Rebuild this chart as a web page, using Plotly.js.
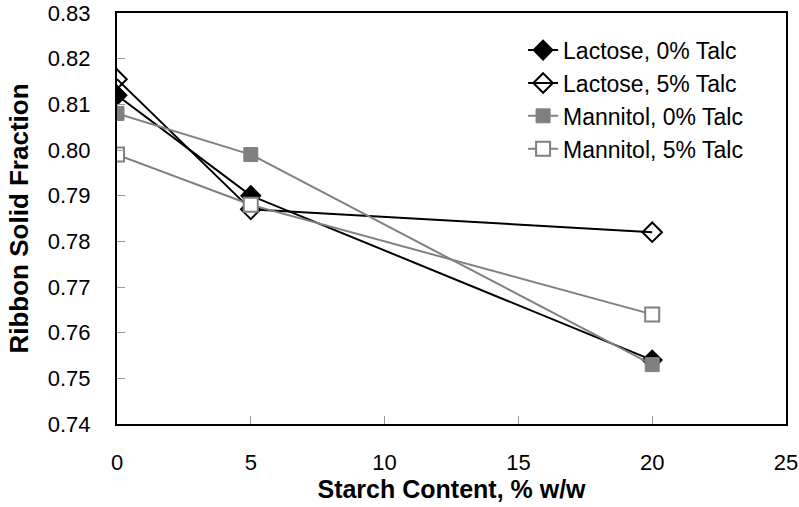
<!DOCTYPE html>
<html>
<head>
<meta charset="utf-8">
<script src="https://cdn.plot.ly/plotly-3.0.1.min.js"></script>
<style>
  html, body { margin: 0; padding: 0; background: #fff; }
  #chart { width: 799px; height: 507px; }
</style>
</head>
<body>
<div id="chart"></div>
<script>
// Starch content (% w/w)
const starch = [0, 5, 20];

// Ribbon solid fraction per formulation
const lactose0 = [0.812, 0.790, 0.754];
const lactose5 = [0.8155, 0.787, 0.782];
const mannitol0 = [0.808, 0.799, 0.753];
const mannitol5 = [0.799, 0.788, 0.764];

const seriesNames = ['Lactose, 0% Talc', 'Lactose, 5% Talc', 'Mannitol, 0% Talc', 'Mannitol, 5% Talc'];

const xTicks = [0, 5, 10, 15, 20, 25];
const yTicks = [0.74, 0.75, 0.76, 0.77, 0.78, 0.79, 0.80, 0.81, 0.82, 0.83];

const fontFam = 'Liberation Sans, Arial, sans-serif';

const data = [
  {
    x: starch, y: lactose0, name: seriesNames[0],
    type: 'scatter', mode: 'lines+markers',
    line: { color: '#000000', width: 2 },
    marker: { symbol: 'diamond', size: 15, color: '#000000', line: { color: '#000000', width: 1.5 } },
  },
  {
    x: starch, y: lactose5, name: seriesNames[1],
    type: 'scatter', mode: 'lines+markers',
    line: { color: '#000000', width: 2 },
    marker: { symbol: 'diamond-open', size: 15, color: '#000000', line: { color: '#000000', width: 2 } },
  },
  {
    x: starch, y: mannitol0, name: seriesNames[2],
    type: 'scatter', mode: 'lines+markers',
    line: { color: '#808080', width: 2 },
    marker: { symbol: 'square', size: 14, color: '#808080', line: { color: '#808080', width: 1 } },
  },
  {
    x: starch, y: mannitol5, name: seriesNames[3],
    type: 'scatter', mode: 'lines+markers',
    line: { color: '#808080', width: 2 },
    marker: { symbol: 'square', size: 14, color: '#ffffff', line: { color: '#808080', width: 2 } },
  },
];

const layout = {
  width: 799,
  height: 507,
  margin: { l: 117, r: 13, t: 13, b: 83 },
  paper_bgcolor: '#ffffff',
  plot_bgcolor: '#ffffff',
  font: { family: fontFam, color: '#000000', size: 22 },
  showlegend: true,
  legend: {
    x: 0.607,
    y: 0.962,
    xanchor: 'left',
    yanchor: 'top',
    bgcolor: 'rgba(0,0,0,0)',
    font: { family: fontFam, size: 23, color: '#000000' },
    tracegroupgap: 0,
  },
  xaxis: {
    range: [0, 25],
    tickvals: xTicks,
    ticktext: xTicks.map(String),
    ticks: 'inside',
    ticklen: 8,
    tickcolor: '#999999',
    tickwidth: 1,
    ticklabelstandoff: 18,
    ticklabeloverflow: 'allow',
    showgrid: false,
    zeroline: false,
    showline: true,
    linecolor: '#000000',
    linewidth: 2,
    mirror: true,
    tickfont: { family: fontFam, size: 22 },
    title: {
      text: 'Starch Content, % w/w',
      font: { family: fontFam, size: 25, weight: 'bold' },
      standoff: 0,
    },
  },
  yaxis: {
    range: [0.74, 0.83],
    tickvals: yTicks,
    ticktext: yTicks.map(v => v.toFixed(2)),
    ticks: 'inside',
    ticklen: 8,
    tickcolor: '#999999',
    tickwidth: 1,
    ticklabelstandoff: 20,
    ticklabeloverflow: 'allow',
    showgrid: false,
    zeroline: false,
    showline: true,
    linecolor: '#000000',
    linewidth: 2,
    mirror: true,
    tickfont: { family: fontFam, size: 22 },
    title: {
      text: 'Ribbon Solid Fraction',
      font: { family: fontFam, size: 26, weight: 'bold' },
      standoff: 12,
    },
  },
};

Plotly.newPlot('chart', data, layout, { staticPlot: true, displayModeBar: false });
</script>
</body>
</html>
